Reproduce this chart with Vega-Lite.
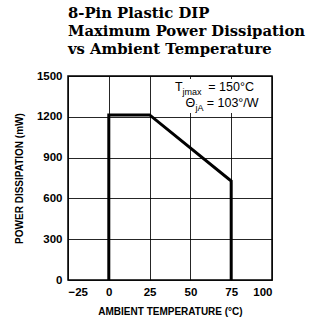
{
  "$schema": "https://vega.github.io/schema/vega-lite/v6.json",
  "width": 204,
  "height": 204,
  "autosize": "none",
  "padding": {"left": 68, "top": 76, "right": 37, "bottom": 41},
  "background": "white",
  "title": {
    "text": ["8-Pin Plastic DIP", "Maximum Power Dissipation", "vs Ambient Temperature"],
    "anchor": "start",
    "frame": "group",
    "font": "DejaVu Serif",
    "fontSize": 14.8,
    "fontWeight": "bold",
    "color": "black",
    "lineHeight": 18,
    "offset": 13
  },
  "config": {
    "view": {"stroke": "black", "strokeWidth": 1.5},
    "axis": {
      "grid": true,
      "gridColor": "black",
      "gridWidth": 1,
      "gridOpacity": 0.85,
      "domain": false,
      "ticks": false,
      "labelFont": "Liberation Sans",
      "labelFontSize": 11.5,
      "labelFontWeight": "bold",
      "labelColor": "black",
      "titleFont": "Liberation Sans",
      "titleFontSize": 10,
      "titleFontWeight": "bold",
      "titleColor": "black"
    }
  },
  "layer": [
    {
      "data": {"values": [{"x1": 38, "x2": 99, "y1": 1228, "y2": 1478}]},
      "mark": {"type": "rect", "color": "white"},
      "encoding": {
        "x": {"field": "x1", "type": "quantitative", "scale": {"domain": [-25, 100], "nice": false},
              "axis": {"values": [-25, 0, 25, 50, 75, 100], "format": "d", "title": "AMBIENT TEMPERATURE (°C)", "labelPadding": 6, "titlePadding": 9}},
        "x2": {"field": "x2"},
        "y": {"field": "y1", "type": "quantitative", "scale": {"domain": [0, 1500], "nice": false},
              "axis": {"values": [0, 300, 600, 900, 1200, 1500], "format": "d", "title": "POWER DISSIPATION (mW)", "labelPadding": 6, "titlePadding": 12}},
        "y2": {"field": "y2"}
      }
    },
    {
      "data": {"values": [
        {"ta": 0, "p": 0, "o": 1},
        {"ta": 0, "p": 1214, "o": 2},
        {"ta": 25, "p": 1214, "o": 3},
        {"ta": 75, "p": 728, "o": 4},
        {"ta": 75, "p": 0, "o": 5}
      ]},
      "mark": {"type": "line", "color": "black", "strokeWidth": 3, "strokeJoin": "miter"},
      "encoding": {
        "x": {"field": "ta", "type": "quantitative"},
        "y": {"field": "p", "type": "quantitative"},
        "order": {"field": "o"}
      }
    },
    {
      "data": {"values": [
        {"t": "T", "x": 40.6, "y": 1390},
        {"t": "= 150°C", "x": 61, "y": 1390},
        {"t": "Θ", "x": 47, "y": 1272},
        {"t": "= 103°/W", "x": 60, "y": 1272}
      ]},
      "mark": {"type": "text", "align": "left", "baseline": "alphabetic", "font": "Liberation Sans", "fontSize": 12.5, "color": "black"},
      "encoding": {
        "x": {"field": "x", "type": "quantitative"},
        "y": {"field": "y", "type": "quantitative"},
        "text": {"field": "t"}
      }
    },
    {
      "data": {"values": [
        {"t": "jmax", "x": 45.2, "y": 1360},
        {"t": "jA", "x": 53.2, "y": 1244}
      ]},
      "mark": {"type": "text", "align": "left", "baseline": "alphabetic", "font": "Liberation Sans", "fontSize": 9, "color": "black"},
      "encoding": {
        "x": {"field": "x", "type": "quantitative"},
        "y": {"field": "y", "type": "quantitative"},
        "text": {"field": "t"}
      }
    }
  ]
}
